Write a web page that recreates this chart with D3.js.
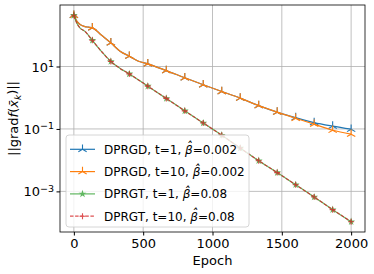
<!DOCTYPE html>
<html>
<head>
<meta charset="utf-8">
<script src="https://cdn.jsdelivr.net/npm/d3@7"></script>
<style>
  body { margin: 0; background: #fff; }
  text { font-family: "DejaVu Sans", sans-serif; fill: #000; }
</style>
</head>
<body>
<div id="chart"></div>
<script>
/* Gradient norm vs epoch, log scale */

const width = 374,
  height = 274,
  margin = ({ top: 5, right: 9, bottom: 42, left: 60 });

// epochs (markers sit every 2000/15 epochs)
const epochs = [0, 20, 45, 80, 105, 133.3, 200, 266.7, 333.3, 400, 466.7, 533.3, 666.7,
  800, 933.3, 1066.7, 1200, 1333.3, 1466.7, 1600, 1733.3, 1866.7, 2000];

const dprgdT1 = [436, 290, 220, 190, 182, 173, 100, 57, 31, 21.4, 14.8, 12.2, 7.4,
  4.35, 2.6, 1.58, 0.97, 0.56, 0.345, 0.23, 0.16, 0.123, 0.098];
const dprgdT10 = [436, 290, 220, 190, 182, 173, 100, 57, 31, 21.4, 14.8, 12.2, 7.4,
  4.35, 2.6, 1.58, 0.97, 0.56, 0.345, 0.22, 0.142, 0.091, 0.068];
const dprgtT1 = [436, 250, 170, 133, 100, 69, 30, 14.5, 8.7, 5.8, 3.7, 2.35, 0.95,
  0.38, 0.155, 0.063, 0.0244, 0.0096, 0.004, 0.00163, 0.00066, 0.00026, 0.000107];
const dprgtT10 = [436, 250, 170, 133, 100, 69, 30, 14.5, 8.7, 5.8, 3.7, 2.35, 0.95,
  0.38, 0.155, 0.063, 0.0244, 0.0096, 0.004, 0.00163, 0.00066, 0.00026, 0.000107];

const xTicks = [0, 500, 1000, 1500, 2000];
const yTicks = [1e1, 1e-1, 1e-3];

const series = [
  { name: "DPRGD, t=1, ", beta: "=0.002", values: dprgdT1, color: "#1f77b4", marker: "tri", dash: null, opacity: 1 },
  { name: "DPRGD, t=10, ", beta: "=0.002", values: dprgdT10, color: "#ff7f0e", marker: "tri", dash: null, opacity: 1 },
  { name: "DPRGT, t=1, ", beta: "=0.08", values: dprgtT1, color: "#2ca02c", marker: "star", dash: null, opacity: 0.75 },
  { name: "DPRGT, t=10, ", beta: "=0.08", values: dprgtT10, color: "#d62728", marker: "plus", dash: "3.5,1.6", opacity: 0.8 }
];

const svg = d3.select("#chart")
  .append("svg")
  .attr("width", width)
  .attr("height", height);

// matplotlib style 5% margins
let x = d3.scaleLinear()
  .domain([-100, 2100])
  .range([margin.left, width - margin.right]);

let allVals = series.flatMap(s => s.values);
let lo = Math.log10(d3.min(allVals)), hi = Math.log10(d3.max(allVals));
let pad = (hi - lo) * 0.05;
let y = d3.scaleLog()
  .domain([10 ** (lo - pad), 10 ** (hi + pad)])
  .range([height - margin.bottom, margin.top]);

// grid
svg.append("g")
  .selectAll("line.gx")
  .data(xTicks)
  .join("line")
  .attr("x1", d => x(d)).attr("x2", d => x(d))
  .attr("y1", margin.top).attr("y2", height - margin.bottom)
  .attr("stroke", "#b0b0b0").attr("stroke-width", 0.8);

svg.append("g")
  .selectAll("line.gy")
  .data(yTicks)
  .join("line")
  .attr("x1", margin.left).attr("x2", width - margin.right)
  .attr("y1", d => y(d)).attr("y2", d => y(d))
  .attr("stroke", "#b0b0b0").attr("stroke-width", 0.8);

// axes
svg.append("g")
  .attr("transform", `translate(0,${height - margin.bottom})`)
  .call(d3.axisBottom(x).tickValues(xTicks).tickFormat(d3.format("d"))
    .tickSize(3.5).tickPadding(3.5).tickSizeOuter(0))
  .call(g => g.select(".domain").remove())
  .call(g => g.selectAll("text").attr("font-size", 13).attr("font-family", "DejaVu Sans"));

let yAxis = svg.append("g")
  .attr("transform", `translate(${margin.left},0)`)
  .call(d3.axisLeft(y).tickValues(yTicks).tickSize(3.5).tickFormat(() => ""))
  .call(g => g.select(".domain").remove());

yAxis.selectAll(".tick").append("text")
  .attr("x", -6)
  .attr("dy", "0.35em")
  .attr("text-anchor", "end")
  .attr("font-size", 13)
  .attr("fill", "#000")
  .each(function (d) {
    let t = d3.select(this);
    let e = Math.round(Math.log10(d));
    t.append("tspan").text("10");
    t.append("tspan").attr("font-size", 9.5).attr("dy", "-0.5em").text(e < 0 ? "\u2212" + (-e) : e);
  });

svg.append("text")
  .attr("x", (margin.left + width - margin.right) / 2)
  .attr("y", 265)
  .attr("text-anchor", "middle")
  .attr("font-size", 13)
  .text("Epoch");

let ylab = svg.append("text")
  .attr("transform", `translate(18,${(margin.top + height - margin.bottom) / 2}) rotate(-90)`)
  .attr("text-anchor", "middle")
  .attr("font-size", 13);
ylab.append("tspan").text("||grad");
ylab.append("tspan").attr("font-style", "italic").text("f");
ylab.append("tspan").text("(");
ylab.append("tspan").attr("font-style", "italic").text("x\u0304");
ylab.append("tspan").attr("font-style", "italic").attr("font-size", 9).attr("dy", "0.3em").text("k");
ylab.append("tspan").attr("dy", "-0.3em").text(")||");

// marker shapes
function markerPath(type) {
  if (type === "tri") {
    let r = 4.8, c = r * Math.cos(Math.PI / 6), s = r * Math.sin(Math.PI / 6);
    return `M0,0L0,${-r}M0,0L${-c},${s}M0,0L${c},${s}`;
  }
  if (type === "plus") return "M-3,0L3,0M0,-3L0,3";
  return d3.symbol(d3.symbolStar, 6)();
}

let line = d3.line()
  .x(d => x(d[0]))
  .y(d => y(d[1]))
  .curve(d3.curveMonotoneX);

const step = 2000 / 15;
let isMark = e => Math.abs(e / step - Math.round(e / step)) < 0.01;

for (let s of series) {
  let pts = epochs.map((e, i) => [e, s.values[i]]);
  let g = svg.append("g").attr("opacity", s.opacity);
  g.append("path")
    .datum(pts)
    .attr("d", line)
    .attr("fill", "none")
    .attr("stroke", s.color)
    .attr("stroke-width", 1.2)
    .attr("stroke-dasharray", s.dash);
  g.selectAll("path.m")
    .data(pts.filter(p => isMark(p[0])))
    .join("path")
    .attr("transform", d => `translate(${x(d[0])},${y(d[1])})`)
    .attr("d", markerPath(s.marker))
    .attr("fill", s.color)
    .attr("stroke", s.color)
    .attr("stroke-width", 1.1);
}

// frame
svg.append("rect")
  .attr("x", margin.left).attr("y", margin.top)
  .attr("width", width - margin.right - margin.left)
  .attr("height", height - margin.bottom - margin.top)
  .attr("fill", "none")
  .attr("stroke", "#000")
  .attr("stroke-width", 0.8);

// legend
let legend = svg.append("g").attr("transform", "translate(66,135)");
legend.append("rect")
  .attr("width", 183).attr("height", 92)
  .attr("rx", 3)
  .attr("fill", "#fff").attr("fill-opacity", 0.8)
  .attr("stroke", "#cccccc").attr("stroke-width", 0.8);

series.forEach((s, i) => {
  let cy = 14.3 + i * 22.3;
  let g = legend.append("g");
  let hg = g.append("g").attr("opacity", s.opacity);
  hg.append("line")
    .attr("x1", 4).attr("x2", 29)
    .attr("y1", cy).attr("y2", cy)
    .attr("stroke", s.color).attr("stroke-width", 1.2)
    .attr("stroke-dasharray", s.dash);
  hg.append("path")
    .attr("transform", `translate(16.5,${cy})`)
    .attr("d", markerPath(s.marker))
    .attr("fill", s.color).attr("stroke", s.color).attr("stroke-width", 1.1);
  let t = g.append("text")
    .attr("x", 38).attr("y", cy + 4.3)
    .attr("font-size", 12);
  t.append("tspan").text(s.name);
  t.append("tspan").attr("font-style", "italic").text("\u03b2\u0302");
  t.append("tspan").text(s.beta);
});
</script>
</body>
</html>
